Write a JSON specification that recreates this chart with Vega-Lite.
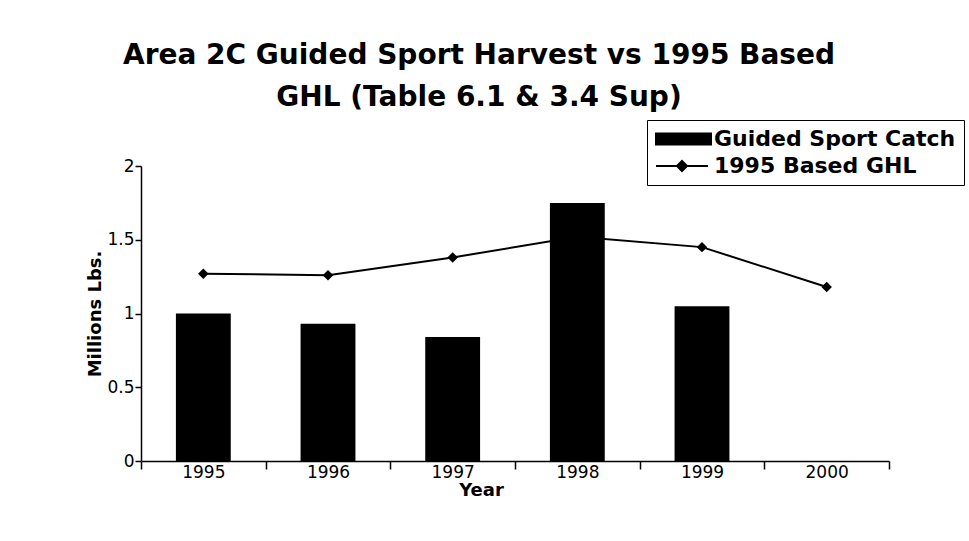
{
  "$schema": "https://vega.github.io/schema/vega-lite/v6.json",
  "width": 748,
  "height": 295,
  "autosize": {"type": "none"},
  "padding": {"left": 141, "top": 166, "right": 80, "bottom": 80},
  "background": "white",
  "config": {
    "font": "DejaVu Sans",
    "view": {"stroke": null},
    "axis": {"domainColor": "black", "tickColor": "black", "labelColor": "black", "titleColor": "black", "grid": false, "domainWidth": 1.5, "tickWidth": 1.5}
  },
  "title": {
    "text": ["Area 2C Guided Sport Harvest vs 1995 Based", "GHL (Table 6.1 & 3.4 Sup)"],
    "fontSize": 28,
    "fontWeight": "bold",
    "font": "DejaVu Sans",
    "color": "black",
    "anchor": "middle",
    "frame": "group",
    "lineHeight": 42,
    "dx": -36,
    "offset": 8
  },
  "data": {
    "values": [
      {"Year": "1995", "catch": 1.0, "ghl": 1.27},
      {"Year": "1996", "catch": 0.93, "ghl": 1.26},
      {"Year": "1997", "catch": 0.84, "ghl": 1.38},
      {"Year": "1998", "catch": 1.75, "ghl": 1.52},
      {"Year": "1999", "catch": 1.05, "ghl": 1.45},
      {"Year": "2000", "catch": null, "ghl": 1.18}
    ]
  },
  "encoding": {
    "x": {
      "field": "Year",
      "type": "ordinal",
      "scale": {"paddingInner": 0, "paddingOuter": 0},
      "axis": {
        "title": "Year",
        "labelAngle": 0,
        "labelFontSize": 17,
        "labelPadding": -5,
        "tickBand": "extent",
        "tickSize": 8,
        "titleFontSize": 18,
        "titleFontWeight": "bold",
        "titleX": 340,
        "titleY": 20
      }
    }
  },
  "layer": [
    {
      "mark": {"type": "bar", "color": "black", "width": {"band": 0.44}},
      "encoding": {
        "y": {
          "field": "catch",
          "type": "quantitative",
          "scale": {"domain": [0, 2]},
          "axis": {
            "title": "Millions Lbs.",
            "values": [0, 0.5, 1, 1.5, 2],
            "format": "~g",
            "labelFontSize": 17,
            "labelPadding": 1,
            "tickSize": 6,
            "titleFontSize": 18,
            "titleFontWeight": "bold",
            "titlePadding": 2
          }
        },
        "color": {
          "datum": "Guided Sport Catch",
          "type": "nominal",
          "scale": {"domain": ["Guided Sport Catch", "1995 Based GHL"], "range": ["black", "black"]},
          "legend": {
            "title": null,
            "orient": "none",
            "legendX": 506,
            "legendY": -46,
            "strokeColor": "black",
            "fillColor": "white",
            "padding": 8,
            "labelFontSize": 22,
            "labelFontWeight": "bold",
            "labelFont": "DejaVu Sans",
            "labelColor": "black",
            "labelLimit": 0,
            "labelOffset": 37,
            "rowPadding": 5,
            "symbolSize": 400,
            "encode": {
              "symbols": {
                "update": {
                  "shape": [
                    {"test": "datum.value === 'Guided Sport Catch'", "value": "M-1,-0.55H4.5V0.55H-1Z"},
                    {"value": "M-1,0H4.2M1.6,-0.5L2.1,0L1.6,0.5L1.1,0Z"}
                  ],
                  "size": {"value": 400},
                  "fill": {"value": "black"},
                  "stroke": {"value": "black"},
                  "strokeWidth": {"value": 2},
                  "opacity": {"value": 1},
                  "fillOpacity": {"value": 1}
                }
              }
            }
          }
        }
      }
    },
    {
      "mark": {"type": "line", "color": "black", "strokeWidth": 2, "point": {"shape": "diamond", "size": 110, "filled": true, "color": "black", "opacity": 1}},
      "encoding": {
        "y": {"field": "ghl", "type": "quantitative"},
        "color": {"datum": "1995 Based GHL", "type": "nominal"}
      }
    }
  ]
}
